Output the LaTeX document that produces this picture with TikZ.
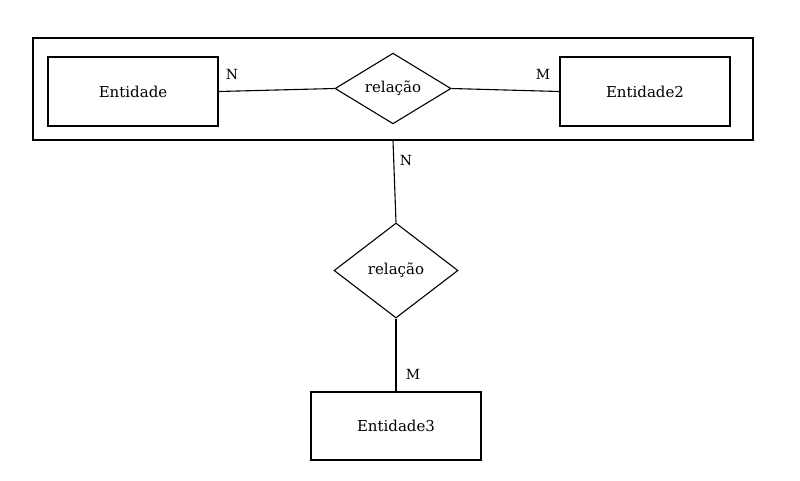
\documentclass[tikz,border=0pt]{standalone}
\usepackage{fontspec}
\setmainfont{DejaVu Serif}
\usetikzlibrary{shapes.geometric}
\begin{document}
\begin{tikzpicture}[x=1pt,y=-1pt,line width=1.1pt,
  ent/.style={draw,minimum width=170pt,minimum height=69pt,inner sep=0pt,font=\fontsize{15}{18}\selectfont},
  rel/.style={draw,diamond,inner sep=0pt,font=\fontsize{15}{18}\selectfont},
  card/.style={font=\fontsize{14}{16}\selectfont}]
\useasboundingbox (0,0) rectangle (800,480);
\node[draw,minimum width=720pt,minimum height=102pt,inner sep=0pt] (agg) at (393,89) {};
\node[ent] (e1) at (133,91.5) {Entidade};
\node[ent] (e2) at (645,91.5) {Entidade2};
\node[rel,minimum width=116pt,minimum height=67pt] (r1) at (393,88.5) {relação};
\node[rel,minimum width=124pt,minimum height=95pt] (r2) at (396,270.5) {relação};
\node[ent,minimum height=68pt] (e3) at (396,426) {Entidade3};
\draw (e1.east) -- (r1.west);
\draw (r1.east) -- (e2.west);
\draw (agg.south) -- (r2.north);
\draw (r2.south) -- (e3.north);
\node[card] (n1) at (232,74) {N};
\node[card] (m1) at (543,74) {M};
\node[card] (n2) at (406,160) {N};
\node[card] (m2) at (413,374) {M};
\end{tikzpicture}
\end{document}
